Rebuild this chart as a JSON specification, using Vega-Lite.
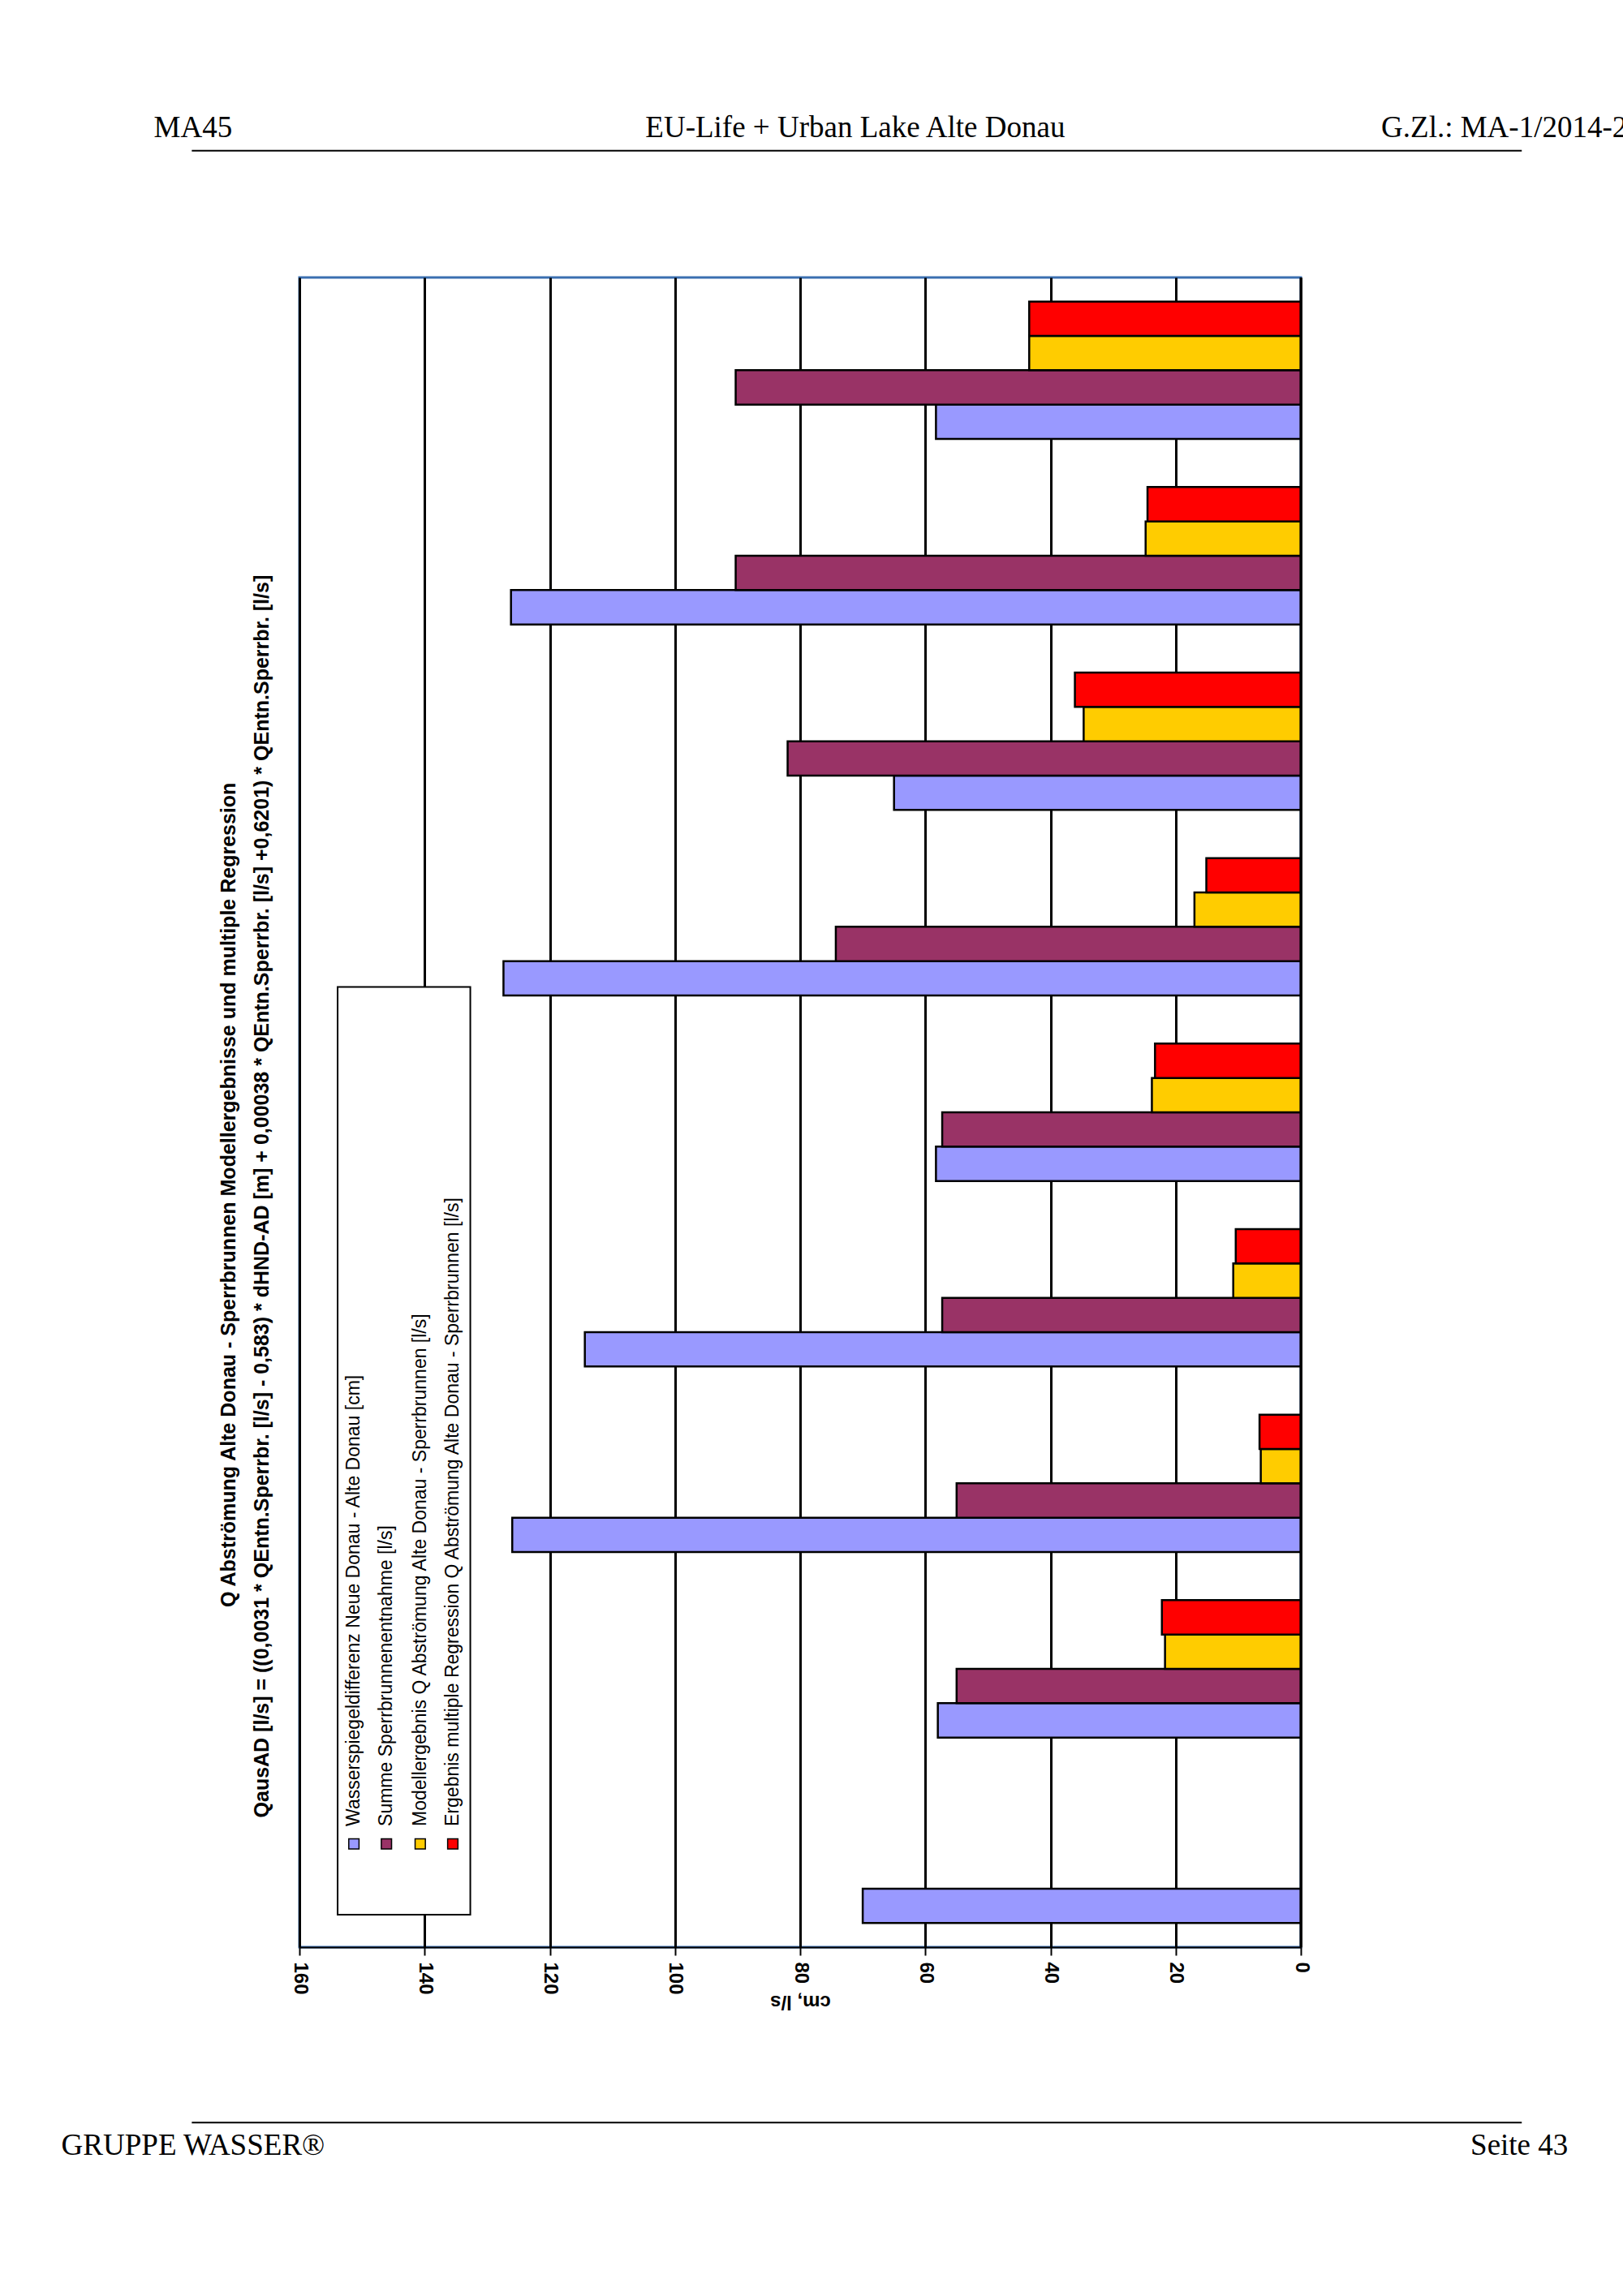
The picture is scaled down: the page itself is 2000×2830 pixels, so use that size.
{
  "$schema": "https://vega.github.io/schema/vega-lite/v6.json",
  "width": 1234,
  "height": 2058,
  "autosize": "none",
  "padding": {"left": 369, "top": 342, "right": 397, "bottom": 430},
  "background": "white",
  "config": {"view": {"stroke": "#3a6fb0", "strokeWidth": 3}, "font": "Liberation Sans"},
  "datasets": {
    "bars": [
      {"g": 1, "s": "blue", "v": 70},
      {"g": 2, "s": "blue", "v": 58}, {"g": 2, "s": "purple", "v": 55}, {"g": 2, "s": "yellow", "v": 21.7}, {"g": 2, "s": "red", "v": 22.2},
      {"g": 3, "s": "blue", "v": 126}, {"g": 3, "s": "purple", "v": 55}, {"g": 3, "s": "yellow", "v": 6.4}, {"g": 3, "s": "red", "v": 6.6},
      {"g": 4, "s": "blue", "v": 114.4}, {"g": 4, "s": "purple", "v": 57.3}, {"g": 4, "s": "yellow", "v": 10.8}, {"g": 4, "s": "red", "v": 10.4},
      {"g": 5, "s": "blue", "v": 58.3}, {"g": 5, "s": "purple", "v": 57.3}, {"g": 5, "s": "yellow", "v": 23.8}, {"g": 5, "s": "red", "v": 23.3},
      {"g": 6, "s": "blue", "v": 127.4}, {"g": 6, "s": "purple", "v": 74.3}, {"g": 6, "s": "yellow", "v": 17}, {"g": 6, "s": "red", "v": 15.1},
      {"g": 7, "s": "blue", "v": 65}, {"g": 7, "s": "purple", "v": 82}, {"g": 7, "s": "yellow", "v": 34.7}, {"g": 7, "s": "red", "v": 36.1},
      {"g": 8, "s": "blue", "v": 126.2}, {"g": 8, "s": "purple", "v": 90.3}, {"g": 8, "s": "yellow", "v": 24.8}, {"g": 8, "s": "red", "v": 24.5},
      {"g": 9, "s": "blue", "v": 58.3}, {"g": 9, "s": "purple", "v": 90.3}, {"g": 9, "s": "yellow", "v": 43.4}, {"g": 9, "s": "red", "v": 43.4}
    ],
    "legend": [
      {"s": "blue", "u": 151.3, "label": "Wasserspiegeldifferenz Neue Donau - Alte Donau [cm]"},
      {"s": "purple", "u": 146.1, "label": "Summe Sperrbrunnenentnahme [l/s]"},
      {"s": "yellow", "u": 140.7, "label": "Modellergebnis Q Abströmung Alte Donau - Sperrbrunnen [l/s]"},
      {"s": "red", "u": 135.5, "label": "Ergebnis multiple Regression Q Abströmung Alte Donau - Sperrbrunnen [l/s]"}
    ],
    "page": [
      {"u": 177.0, "d": -101, "t": "MA45", "a": "left"},
      {"u": 71.2, "d": -101, "t": "EU-Life + Urban Lake Alte Donau", "a": "center"},
      {"u": -34.9, "d": -101, "t": "G.Zl.: MA-1/2014-220", "a": "right"},
      {"u": 177.0, "d": 1267, "t": "GRUPPE WASSER®", "a": "left"},
      {"u": -34.9, "d": 1267, "t": "Seite 43", "a": "right"}
    ],
    "rules": [
      {"u": 177.2, "u2": -35.3, "d": -86},
      {"u": 177.2, "u2": -35.3, "d": 1251}
    ],
    "titles": [
      {"u": 171.3, "d": 622, "t": "Q Abströmung Alte Donau - Sperrbrunnen Modellergebnisse und multiple Regression"},
      {"u": 165.9, "d": 623, "t": "QausAD [l/s] = ((0,0031 * QEntn.Sperrbr. [l/s] - 0,583) * dHND-AD [m] + 0,00038 * QEntn.Sperrbr. [l/s] +0,6201) * QEntn.Sperrbr. [l/s]"}
    ],
    "box": [{"u": 153.9, "u2": 132.7, "d": 481, "d2": 1110}]
  },
  "resolve": {"scale": {"y": "independent"}},
  "layer": [
    {
      "data": {"name": "bars"},
      "mark": {"type": "bar", "stroke": "black", "strokeWidth": 2.5},
      "encoding": {
        "x": {"field": "v", "type": "quantitative",
          "scale": {"domain": [0, 160], "reverse": true, "nice": false},
          "axis": {"values": [0, 20, 40, 60, 80, 100, 120, 140, 160], "labelAngle": 90, "labelAlign": "left", "labelBaseline": "middle",
            "labelFontSize": 24, "labelFontWeight": "bold", "labelColor": "black", "labelPadding": 8,
            "grid": true, "gridColor": "black", "gridWidth": 3, "gridOpacity": 1,
            "domainColor": "black", "domainWidth": 2, "tickColor": "black", "tickWidth": 2, "tickSize": 10,
            "title": "cm, l/s", "titleAngle": 180, "titleFontSize": 24, "titleFontWeight": "bold", "titlePadding": 20, "titleColor": "black"}},
        "y": {"field": "g", "type": "nominal", "sort": "descending",
          "scale": {"paddingInner": 0, "paddingOuter": 0}, "axis": null},
        "yOffset": {"field": "s", "type": "nominal", "sort": ["red", "yellow", "purple", "blue"],
          "scale": {"paddingInner": 0, "paddingOuter": 0.7}},
        "fill": {"field": "s", "type": "nominal", "legend": null,
          "scale": {"domain": ["blue", "purple", "yellow", "red"], "range": ["#9999ff", "#993366", "#ffcc00", "#ff0000"]}}
      }
    },
    {
      "data": {"values": [{"u": 0}]},
      "mark": {"type": "rule", "color": "black", "strokeWidth": 3},
      "encoding": {"x": {"field": "u", "type": "quantitative"}}
    },
    {
      "data": {"name": "box"},
      "mark": {"type": "rect", "fill": "white", "stroke": "black", "strokeWidth": 2},
      "encoding": {
        "x": {"field": "u", "type": "quantitative"}, "x2": {"field": "u2"},
        "y": {"field": "d", "type": "quantitative", "scale": {"domain": [0, 1132], "reverse": true, "nice": false}, "axis": null},
        "y2": {"field": "d2"}
      }
    },
    {
      "data": {"name": "legend"},
      "transform": [{"calculate": "1062", "as": "d"}],
      "mark": {"type": "square", "size": 160, "stroke": "black", "strokeWidth": 1.5, "opacity": 1},
      "encoding": {
        "x": {"field": "u", "type": "quantitative"},
        "y": {"field": "d", "type": "quantitative", "scale": {"domain": [0, 1132], "reverse": true, "nice": false}, "axis": null},
        "fill": {"field": "s", "type": "nominal", "legend": null,
          "scale": {"domain": ["blue", "purple", "yellow", "red"], "range": ["#9999ff", "#993366", "#ffcc00", "#ff0000"]}}
      }
    },
    {
      "data": {"name": "legend"},
      "transform": [{"calculate": "1050", "as": "d"}],
      "mark": {"type": "text", "angle": 270, "align": "left", "baseline": "middle", "fontSize": 23},
      "encoding": {
        "x": {"field": "u", "type": "quantitative"},
        "y": {"field": "d", "type": "quantitative", "scale": {"domain": [0, 1132], "reverse": true, "nice": false}, "axis": null},
        "text": {"field": "label"}
      }
    },
    {
      "data": {"name": "titles"},
      "mark": {"type": "text", "angle": 270, "align": "center", "baseline": "middle", "fontSize": 25, "fontWeight": "bold"},
      "encoding": {
        "x": {"field": "u", "type": "quantitative"},
        "y": {"field": "d", "type": "quantitative", "scale": {"domain": [0, 1132], "reverse": true, "nice": false}, "axis": null},
        "text": {"field": "t"}
      }
    },
    {
      "data": {"name": "page"},
      "mark": {"type": "text", "baseline": "middle", "fontSize": 37, "font": "Liberation Serif"},
      "encoding": {
        "x": {"field": "u", "type": "quantitative"},
        "y": {"field": "d", "type": "quantitative", "scale": {"domain": [0, 1132], "reverse": true, "nice": false}, "axis": null},
        "text": {"field": "t"},
        "align": {"field": "a"}
      }
    },
    {
      "data": {"name": "rules"},
      "mark": {"type": "rule", "color": "black", "strokeWidth": 2},
      "encoding": {
        "x": {"field": "u", "type": "quantitative"}, "x2": {"field": "u2"},
        "y": {"field": "d", "type": "quantitative", "scale": {"domain": [0, 1132], "reverse": true, "nice": false}, "axis": null}
      }
    }
  ]
}
